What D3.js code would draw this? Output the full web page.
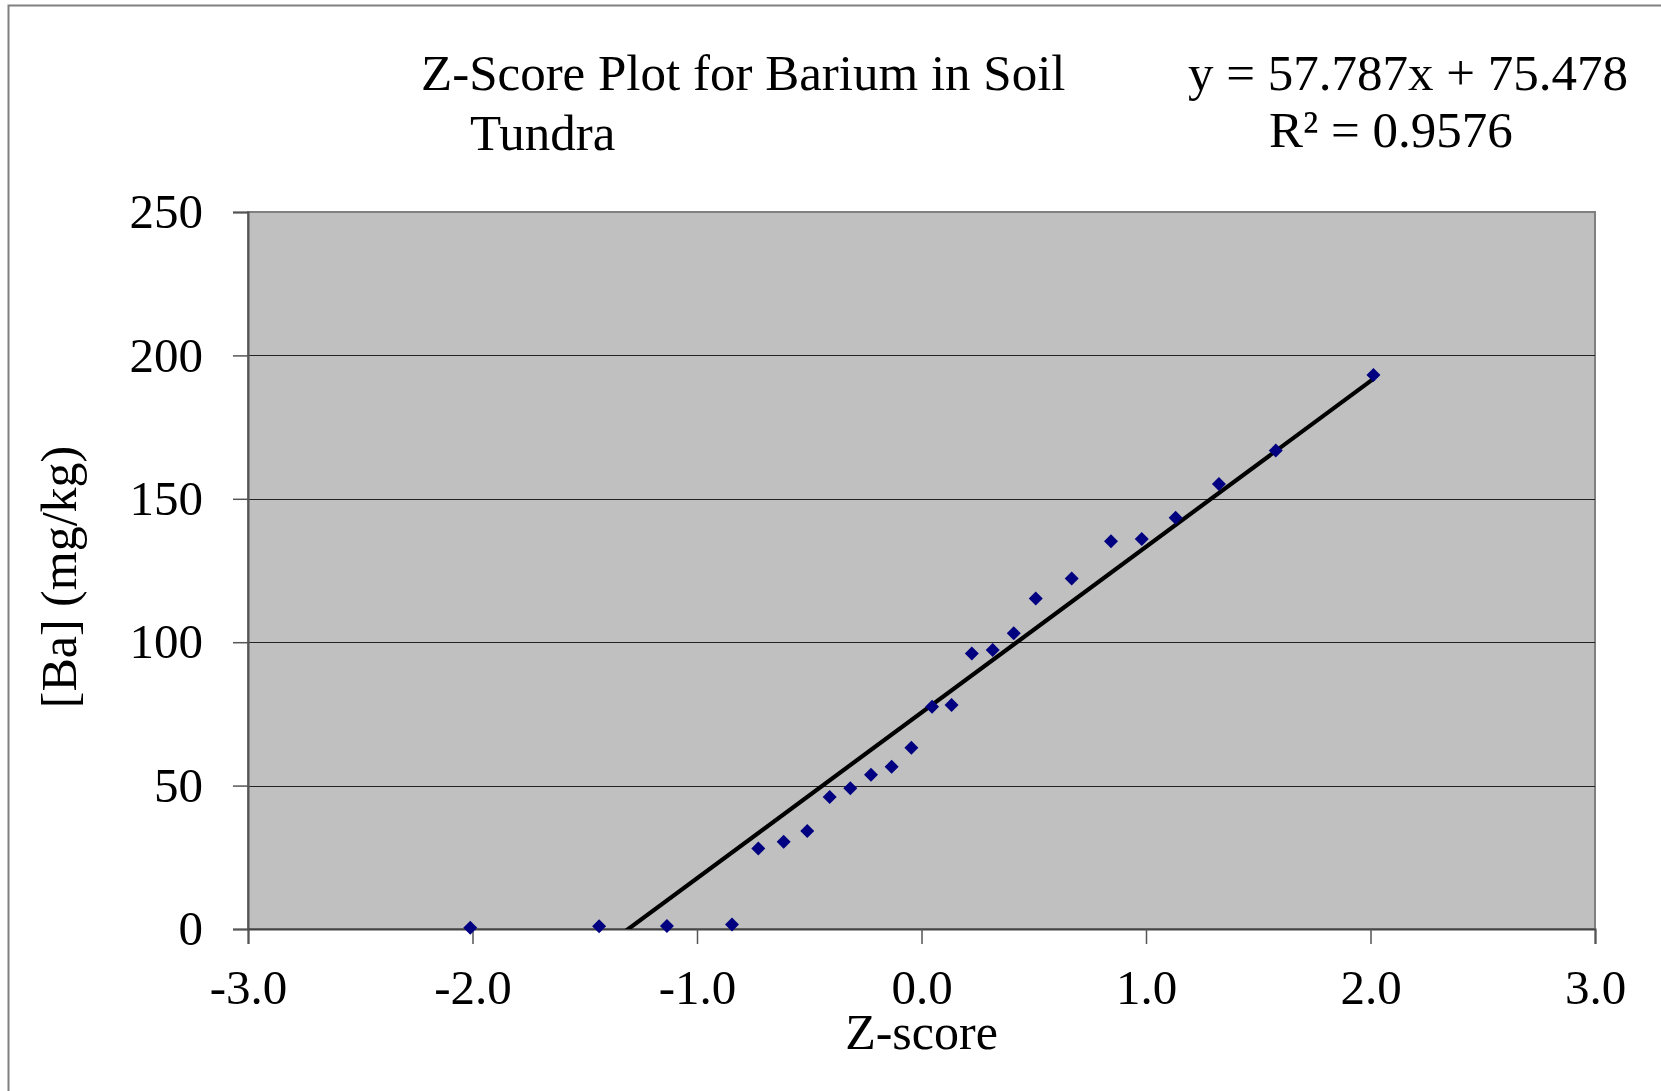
<!DOCTYPE html>
<html>
<head>
<meta charset="utf-8">
<script src="https://cdn.jsdelivr.net/npm/d3@7"></script>
<style>
  html, body { margin: 0; padding: 0; background: #fff; }
  svg { display: block; }
  text { font-family: "Liberation Serif", "Times New Roman", serif; fill: #000; }
</style>
</head>
<body>
<svg id="chart" width="1661" height="1091"></svg>
<script>
// ---- data ----
const zScores = [-2.010, -1.436, -1.134, -0.844, -0.727, -0.614, -0.509, -0.409, -0.317, -0.225, -0.133, -0.045,
                 0.047, 0.134, 0.224, 0.317, 0.411, 0.509, 0.669, 0.844, 0.981, 1.132, 1.325, 1.578, 2.013];
const baValues = [0.45, 0.94, 1.05, 1.6, 28.1, 30.4, 34.2, 46.0, 49.1, 53.8, 56.6, 63.2,
                  77.5, 78.1, 96.1, 97.3, 103.1, 115.2, 122.2, 135.2, 136.0, 143.4, 155.2, 166.8, 193.2];
const xTicks = [-3, -2, -1, 0, 1, 2, 3];
const yTicks = [0, 50, 100, 150, 200, 250];
const trendSlope = 57.787;
const trendIntercept = 75.478;
const titleLines = ["Z-Score Plot for Barium in Soil", "Tundra"];
const equationLines = ["y = 57.787x + 75.478", "R\u00B2 = 0.9576"];
const xAxisTitle = "Z-score";
const yAxisTitle = "[Ba] (mg/kg)";

(function () {
// ---- layout ----
const svg = d3.select("#chart");
const pLeft = 248, pRight = 1595, pTop = 212, pBottom = 929;
const x = d3.scaleLinear().domain([-3, 3]).range([pLeft, pRight]);
const y = d3.scaleLinear().domain([0, 250]).range([pBottom, pTop]);

// outer chart border (left & top visible)
svg.append("rect").attr("x", 8.5).attr("y", 5.5).attr("width", 1700).attr("height", 1200)
  .attr("fill", "none").attr("stroke", "#808080").attr("stroke-width", 2);

// plot area
svg.append("rect").attr("x", pLeft).attr("y", pTop).attr("width", pRight - pLeft).attr("height", pBottom - pTop)
  .attr("fill", "#C0C0C0").attr("stroke", "#808080").attr("stroke-width", 2);

// gridlines
svg.append("g").selectAll("line").data(yTicks.filter(d => d > 0 && d < 250)).join("line")
  .attr("x1", pLeft).attr("x2", pRight)
  .attr("y1", d => Math.round(y(d)) + 0.5).attr("y2", d => Math.round(y(d)) + 0.5)
  .attr("stroke", "#222").attr("stroke-width", 1.2);

// axes
const yAxis = d3.axisLeft(y).tickValues(yTicks).tickSize(15).tickPadding(30).tickFormat(d3.format("d"));
const gy = svg.append("g").attr("transform", `translate(${pLeft},0)`).call(yAxis);
gy.select(".domain").attr("stroke", "#555").attr("stroke-width", 2);
gy.selectAll(".tick line").attr("stroke", "#555").attr("stroke-width", 1.5);
gy.selectAll(".tick text").attr("font-size", 49).attr("font-family", "Liberation Serif").attr("fill", "#000");

const xAxis = d3.axisBottom(x).tickValues(xTicks).tickSize(15).tickPadding(25).tickFormat(d3.format(".1f"));
const gx = svg.append("g").attr("transform", `translate(0,${pBottom})`).call(xAxis);
gx.select(".domain").attr("stroke", "#444").attr("stroke-width", 2);
gx.selectAll(".tick line").attr("stroke", "#555").attr("stroke-width", 1.5);
gx.selectAll(".tick text").attr("font-size", 49).attr("font-family", "Liberation Serif").attr("fill", "#000")
  .text(d => d3.format(".1f")(d).replace("\u2212", "-"));

// clip
svg.append("clipPath").attr("id", "plotclip").append("rect")
  .attr("x", pLeft).attr("y", pTop).attr("width", pRight - pLeft).attr("height", pBottom - pTop);

// trendline
const xmin = d3.min(zScores), xmax = d3.max(zScores);
const trendPts = [xmin, xmax].map(v => [v, trendSlope * v + trendIntercept]);
svg.append("path").attr("clip-path", "url(#plotclip)")
  .attr("d", d3.line().x(d => x(d[0])).y(d => y(d[1]))(trendPts))
  .attr("stroke", "#000").attr("stroke-width", 4.2).attr("fill", "none");

// markers
const pts = zScores.map((z, i) => [z, baValues[i]]);
svg.append("g").selectAll("path").data(pts).join("path")
  .attr("transform", d => `translate(${x(d[0])},${y(d[1])})`)
  .attr("d", "M0,-7L7,0L0,7L-7,0Z")
  .attr("fill", "#000080");

// title
svg.append("text").attr("x", 421).attr("y", 90).attr("font-size", 51).text(titleLines[0]);
svg.append("text").attr("x", 470).attr("y", 150).attr("font-size", 51).text(titleLines[1]);

// equation
svg.append("text").attr("x", 1188).attr("y", 90).attr("font-size", 51).text(equationLines[0]);
svg.append("text").attr("x", 1269).attr("y", 147).attr("font-size", 51).text(equationLines[1]);

// axis titles
svg.append("text").attr("x", (pLeft + pRight) / 2).attr("y", 1049).attr("text-anchor", "middle")
  .attr("font-size", 50).text(xAxisTitle);
svg.append("text").attr("transform", "translate(76,577) rotate(-90)").attr("text-anchor", "middle")
  .attr("font-size", 50).text(yAxisTitle);
})();
</script>
</body>
</html>
